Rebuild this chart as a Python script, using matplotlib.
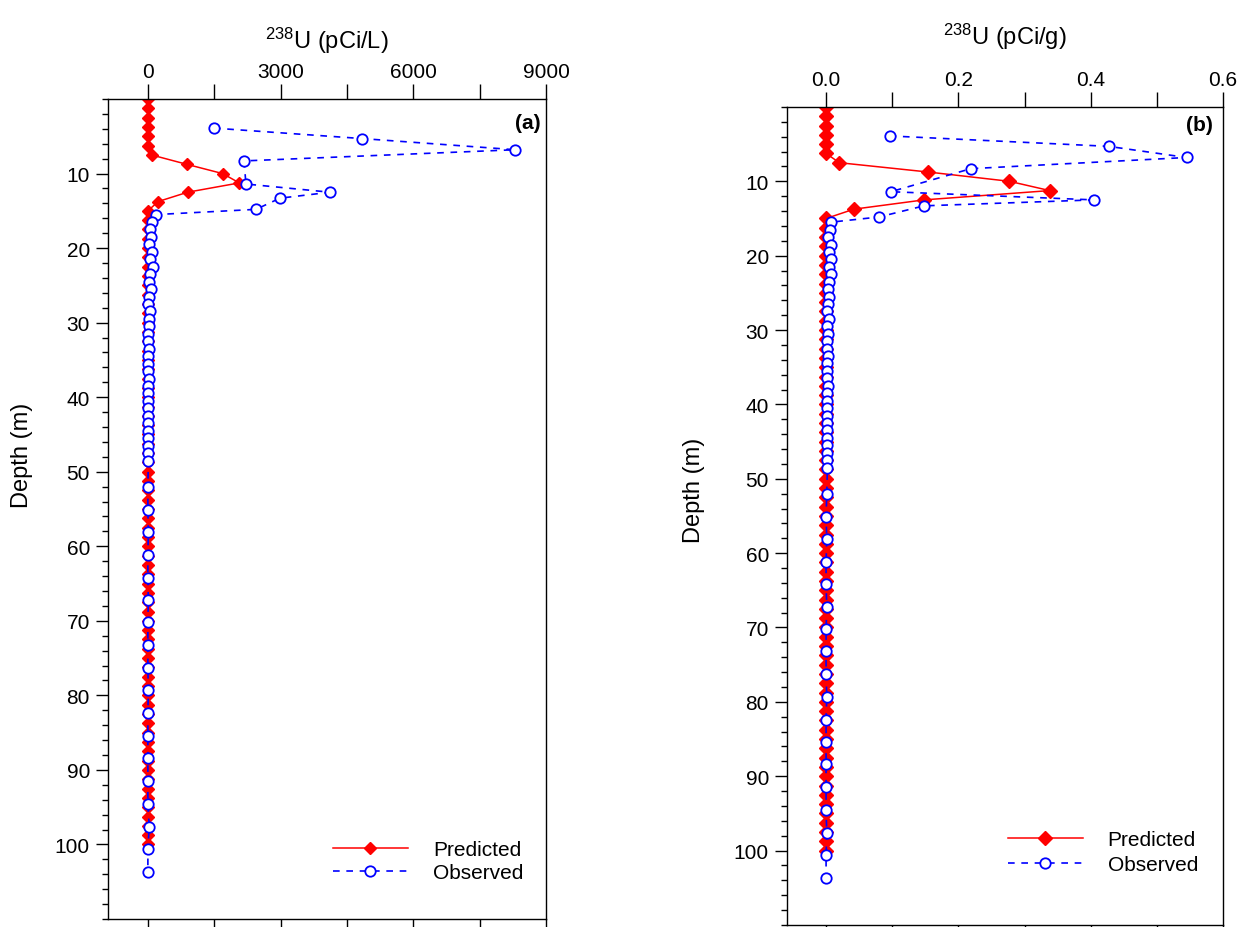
import numpy as np
import matplotlib
matplotlib.use("Agg")
import matplotlib.pyplot as plt
from matplotlib.ticker import FixedLocator

plt.rcParams['font.family'] = ['Liberation Sans', 'DejaVu Sans']
plt.rcParams['mathtext.fontset'] = 'custom'
plt.rcParams['mathtext.rm'] = 'Liberation Sans'

# model grid (m)
pred_depth = [0, 1.25, 2.5, 3.75, 5, 6.25, 7.5, 8.75, 10, 11.25, 12.5, 13.75, 15,
              16.25, 17.5, 18.75, 20, 21.25, 22.5, 23.75, 25, 26.25, 27.5, 28.75,
              30, 31.25, 32.5, 33.75, 35, 36.25, 37.5, 38.75, 40, 41.25, 42.5, 43.75,
              45, 46.25, 47.5, 48.75, 50, 51.25, 52.5, 53.75, 55, 56.25, 57.5, 58.75,
              60, 61.25, 62.5, 63.75, 65, 66.25, 67.5, 68.75, 70, 71.25, 72.5, 73.75,
              75, 76.25, 77.5, 78.75, 80, 81.25, 82.5, 83.75, 85, 86.25, 87.5, 88.75,
              90, 91.25, 92.5, 93.75, 95, 96.25, 97.5, 98.75, 100]
# predicted, only the top 15 m is non zero
pred_a = [0, 0, 0, 0, 0, 0, 83, 875, 1690, 2066, 898, 233, 0] + [0] * 68
pred_b = [0, 0, 0, 0, 0, 0, 0.020, 0.154, 0.277, 0.338, 0.148, 0.042, 0] + [0] * 68

# sample depths (m)
obs_depth = [3.9, 5.3, 6.8, 8.3, 11.4, 12.5, 13.3, 14.8, 15.5,
             16.5, 17.5, 18.5, 19.5, 20.5, 21.5, 22.5, 23.5, 24.5, 25.5, 26.5,
             27.5, 28.5, 29.5, 30.5, 31.5, 32.5, 33.5, 34.5, 35.5, 36.5, 37.5,
             38.5, 39.5, 40.5, 41.5, 42.5, 43.5, 44.5, 45.5, 46.5, 47.5, 48.5,
             52.1, 55.1, 58.1, 61.2, 64.2, 67.2, 70.2, 73.2, 76.3, 79.3, 82.4,
             85.4, 88.4, 91.5, 94.6, 97.6, 100.6, 103.7]
obs_a = [1493, 4833, 8300, 2172, 2217, 4117, 2986, 2443, 181,
         90, 40, 60, 30, 100, 50, 110, 40, 20, 60, 30, 10, 40, 20, 30, 10, 0,
         20, 10, 0, 10, 20, 0, 10, 0, 10, 0, 10, 0, 0, 10, 0, 10,
         0, 0, 10, 0, 0, 10, 0, 0, 0, 10, 0, 0, 0, 0, 0, 30, 0, 0]
obs_b = [0.096, 0.427, 0.545, 0.219, 0.098, 0.405, 0.148, 0.080, 0.007,
         0.006, 0.003, 0.007, 0.004, 0.008, 0.005, 0.007, 0.004, 0.003, 0.005,
         0.003, 0.002, 0.004, 0.002, 0.003, 0.002, 0.001, 0.003, 0.002, 0.001,
         0.002, 0.003, 0.001, 0.002, 0.001, 0.002, 0.001, 0.002, 0.001, 0.001,
         0.002, 0.001, 0.002,
         0.001, 0, 0.001, 0, 0, 0.001, 0, 0, 0, 0.001, 0, 0, 0, 0, 0, 0.001, 0, 0]

FS = 15
LFS = 17

fig = plt.figure(figsize=(12.42, 9.28), dpi=100)
ax1 = fig.add_axes([0.0870, 0.0086, 0.3527, 0.8836])
ax2 = fig.add_axes([0.6337, 0.0022, 0.3510, 0.8815])

panels = [
    (ax1, pred_a, obs_a, (-900, 9000), [0, 3000, 6000, 9000], [1500, 4500, 7500],
     ['0', '3000', '6000', '9000'], r'$\mathregular{^{238}}$U (pCi/L)', '(a)',
     (0.959, 0.971), (-0.171, 0.567), (0.513, 0.045), 6, 0.2, 10),
    (ax2, pred_b, obs_b, (-0.059, 0.6), [0, 0.2, 0.4, 0.6], [0.1, 0.3, 0.5],
     ['0.0', '0.2', '0.4', '0.6'], r'$\mathregular{^{238}}$U (pCi/g)', '(b)',
     (0.947, 0.979), (-0.188, 0.533), (0.506, 0.062), 7, 0.3, 19),
]

for ax, pv, ov, xl, majt, mint, labs, xlab, tag, tagpos, ylpos, legpos, dms, lsp, lpad in panels:
    ax.plot(pv, pred_depth, color='red', lw=1.1, marker='D', ms=dms,
            mfc='red', mec='red', label='Predicted', zorder=2)
    ax.plot(ov, obs_depth, color='blue', lw=1.2, ls=(0, (4, 4)), marker='o', ms=7.5,
            mfc='white', mec='blue', mew=1.3, label='Observed', zorder=3)
    ax.set_xlim(*xl)
    ax.set_ylim(110, 0)
    ax.xaxis.tick_top()
    ax.xaxis.set_label_position('top')
    ax.set_xticks(majt)
    ax.set_xticklabels(labs)
    ax.xaxis.set_minor_locator(FixedLocator(mint))
    ax.set_yticks(range(10, 101, 10))
    ax.yaxis.set_minor_locator(FixedLocator(range(0, 111, 2)))
    ax.tick_params(axis='x', which='both', top=True, bottom=True, labeltop=True,
                   labelbottom=False, direction='out', length=11, width=1, pad=2,
                   labelsize=FS)
    ax.tick_params(axis='y', which='major', direction='out', length=9, width=1,
                   pad=4, labelsize=FS)
    ax.tick_params(axis='y', which='minor', direction='out', length=4, width=1)
    ax.set_xlabel(xlab, fontsize=LFS, labelpad=lpad)
    ax.set_ylabel('Depth (m)', fontsize=LFS)
    ax.yaxis.set_label_coords(*ylpos)
    for s in ax.spines.values():
        s.set_linewidth(1.0)
    ax.text(tagpos[0], tagpos[1], tag, transform=ax.transAxes, ha='center',
            va='center', fontsize=FS, fontweight='bold')
    ax.legend(loc='lower left', bbox_to_anchor=legpos, frameon=False, fontsize=FS,
              handlelength=3.6, handletextpad=1.2, labelspacing=lsp,
              numpoints=1, borderaxespad=0, borderpad=0)

fig.savefig('out.png', dpi=100)
